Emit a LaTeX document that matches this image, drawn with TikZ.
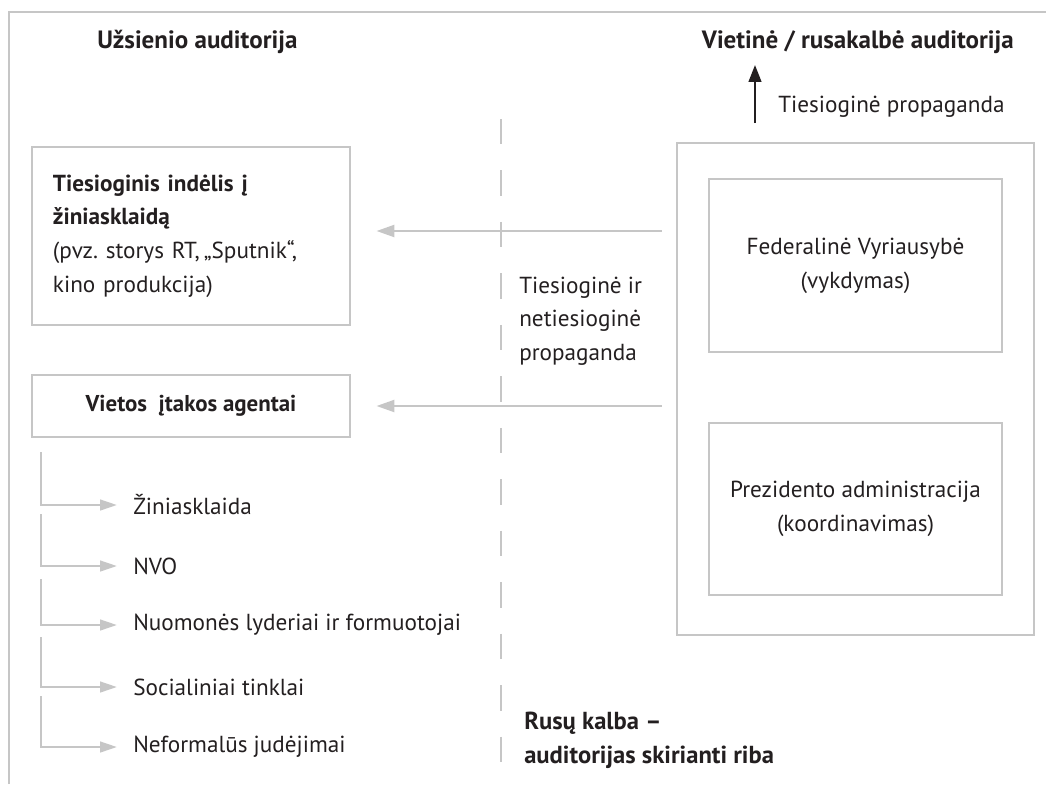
\documentclass[tikz,border=0pt]{standalone}
\usepackage{fontspec}
\setmainfont{PT Sans}
\usetikzlibrary{arrows.meta}
\definecolor{linegray}{HTML}{C6C6C6}
\definecolor{ink}{HTML}{231F20}
\frenchspacing

\begin{document}
\begin{tikzpicture}[x=0.025cm,y=-0.025cm,
  txt/.style={text=ink,font=\fontsize{16.5}{24}\selectfont,inner sep=0pt},
  head/.style={txt,font=\fontsize{17.8}{24}\selectfont\bfseries},
  box/.style={draw=linegray,line width=2pt,text=ink,font=\fontsize{16.5}{24}\selectfont},
  grayarrow/.style={draw=linegray,line width=1.8pt,-{Triangle[length=12.8pt,width=8.5pt]}},
  treearrow/.style={draw=linegray,line width=1.8pt,-{Triangle[length=12pt,width=7.5pt]}},
  blackarrow/.style={draw=ink,line width=1.5pt,-{Triangle[length=12pt,width=9pt]}},
  divider/.style={draw=linegray,line width=2pt,dash pattern=on 18.1pt off 18.5pt}]
\useasboundingbox (0,0) rectangle (1046,784);
\coordinate (FL) at (9,784);
\coordinate (FC) at (9,12);
\coordinate (FR) at (1046,12);
\coordinate (DT) at (501,119);
\coordinate (DB) at (501,764);
\coordinate (PS) at (755,123);
\coordinate (PE) at (755,65);
% frame and language border
\draw[draw=linegray,line width=2pt] (FL) -- (FC) -- (FR);
\draw[divider] (DT) -- (DB);
% audiences
\node[head,anchor=west] (foreign) at (97,42) {Užsienio auditorija};
\node[head,anchor=east] (local) at (1014,42) {Vietinė / rusakalbė auditorija};
\draw[blackarrow] (PS) -- (PE);
\node[txt,anchor=west] (direct) at (778,107) {Tiesioginė propaganda};
% state side
\node[box,minimum width=8.925cm,minimum height=12.3cm] (state) at (855.5,389) {};
\node[box,minimum width=7.325cm,minimum height=4.325cm,align=center] (gov) at (855.5,265.5)
  {Federalinė Vyriausybė\\(vykdymas)};
\node[box,minimum width=7.325cm,minimum height=4.3cm,align=center] (pres) at (855.5,509)
  {Prezidento administracija\\(koordinavimas)};
% foreign side
\node[box,text width=6.9cm,inner xsep=0.525cm,minimum height=4.45cm,align=left] (media) at (191,236)
  {\textbf{Tiesioginis indėlis į\\žiniasklaidą}\\(pvz. storys RT,\,„Sputnik“,\\kino produkcija)};
\node[box,minimum width=7.95cm,minimum height=1.55cm,font=\fontsize{16.3}{24}\selectfont\bfseries] (agents) at (191,406)
  {Vietos \ įtakos agentai};
\draw[grayarrow,shorten <=0.35cm,shorten >=0.625cm] ([yshift=0.125cm]state.west |- media.east) -- ([yshift=0.125cm]media.east);
\draw[grayarrow,shorten <=0.35cm,shorten >=0.625cm] (state.west |- agents.east) -- (agents.east);
\node[txt,anchor=west,align=left] (mixed) at (519,321) {Tiesioginė ir\\netiesioginė\\propaganda};
\node[head,anchor=west,align=left,font=\fontsize{17.5}{24}\selectfont\bfseries] (russian) at (524,740) {Rusų kalba –\\auditorijas skirianti riba};
% local agents
\node[txt,anchor=west] (i1) at (133,505) {Žiniasklaida};
\node[txt,anchor=west] (i2) at (133,566) {NVO};
\node[txt,anchor=west] (i3) at (133,625) {Nuomonės lyderiai ir formuotojai};
\node[txt,anchor=west] (i4) at (133,687) {Socialiniai tinklai};
\node[txt,anchor=west] (i5) at (133,747) {Neformalūs judėjimai};
\draw[treearrow,shorten >=0.4cm] (41,452) |- (i1.west);
\draw[treearrow,shorten >=0.4cm] (41,514) |- (i2.west);
\draw[treearrow,shorten >=0.4cm] (41,579) |- (i3.west);
\draw[treearrow,shorten >=0.4cm] (41,637) |- (i4.west);
\draw[treearrow,shorten >=0.4cm] (41,696) |- (i5.west);
\end{tikzpicture}
\end{document}
